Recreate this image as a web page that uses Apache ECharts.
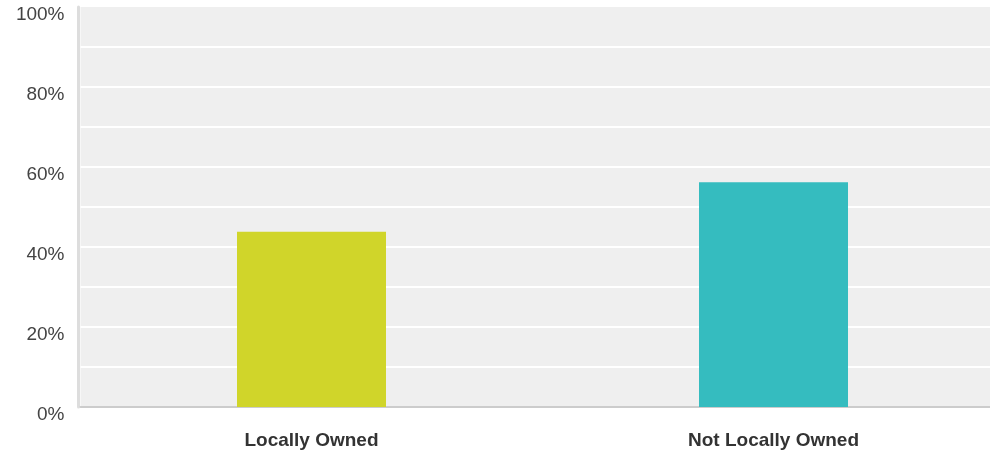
<!DOCTYPE html>
<html>
<head>
<meta charset="utf-8">
<script src="https://cdn.jsdelivr.net/npm/echarts@6/dist/echarts.min.js"></script>
<style>
  html, body { margin: 0; padding: 0; background: #ffffff; }
  #chart { width: 990px; height: 456px; }
</style>
</head>
<body>
<div id="chart"></div>
<script>
// Share of respondents by ownership type (percent)
const categories = ['Locally Owned', 'Not Locally Owned'];
const shareValues = [43.8, 56.2];
const barColors = ['#d0d52a', '#35bcbf'];
const yTickLabels = ['0%', '20%', '40%', '60%', '80%', '100%'];

// The category band runs past the right edge of the canvas, so the x axis is
// a numeric axis over category indices, with half a band of padding on the left.
const xMin = -0.5;
const xMax = 1.4686;

const chart = echarts.init(document.getElementById('chart'), null, { renderer: 'canvas' });

chart.setOption({
  animation: false,
  backgroundColor: '#ffffff',
  grid: {
    left: 80.5,
    top: 7,
    right: 0,
    height: 400,
    show: true,
    backgroundColor: '#efefef',
    borderWidth: 0,
    containLabel: false
  },
  xAxis: {
    type: 'value',
    min: xMin,
    max: xMax,
    axisTick: { show: false },
    axisLine: { show: true, onZero: false, lineStyle: { color: '#cccccc', width: 2 } },
    axisLabel: {
      margin: 24,
      color: '#333333',
      fontFamily: 'Liberation Sans, Arial, sans-serif',
      fontSize: 19,
      fontWeight: 'bold',
      customValues: categories.map(function (c, i) { return i; }),
      formatter: function (v) { return categories[Math.round(v)] || ''; }
    },
    splitLine: { show: false }
  },
  yAxis: {
    type: 'value',
    min: 0,
    max: 100,
    interval: 10,
    offset: 2,
    axisTick: { show: false },
    axisLine: { show: true, onZero: false, lineStyle: { color: '#dddddd', width: 3 } },
    axisLabel: {
      margin: 14,
      color: '#444444',
      fontFamily: 'Liberation Sans, Arial, sans-serif',
      fontSize: 19,
      verticalAlign: 'top',
      lineHeight: 16,
      formatter: function (v) {
        const idx = yTickLabels.indexOf(v + '%');
        return idx >= 0 ? yTickLabels[idx] : '';
      }
    },
    splitLine: {
      show: true,
      showMinLine: false,
      showMaxLine: false,
      lineStyle: { color: '#ffffff', width: 2 }
    }
  },
  series: [{
    type: 'bar',
    barWidth: 149,
    data: shareValues.map(function (v, i) {
      return { value: [i, v], itemStyle: { color: barColors[i] } };
    })
  }]
});
</script>
</body>
</html>
